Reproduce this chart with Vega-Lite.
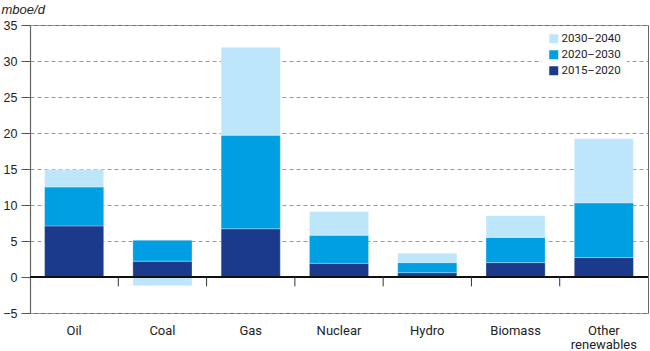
{
  "$schema": "https://vega.github.io/schema/vega-lite/v6.json",
  "width": 618,
  "height": 288,
  "autosize": {"type": "none"},
  "padding": {"left": 30, "top": 25, "right": 2, "bottom": 38},
  "config": {
    "font": "Roboto",
    "view": {"stroke": "#666", "strokeWidth": 1},
    "axis": {"labelFont": "Roboto", "labelFontSize": 13, "labelColor": "#222", "titleFont": "Liberation Sans"},
    "axisY": {
      "labelFont": "Liberation Sans", "labelFontSize": 12.5,
      "labelOverlap": false, "labelFlush": false, "labelBound": false,
      "titleAngle": 0, "titleAlign": "left", "titleBaseline": "alphabetic",
      "titleX": -29, "titleY": -12, "titleFontStyle": "italic", "titleFontWeight": "normal",
      "titleFontSize": 13, "titleColor": "#222",
      "tickSize": 9, "tickColor": "#555", "labelPadding": 4,
      "domainColor": "#666", "domainWidth": 1.2,
      "grid": true, "gridDash": [4, 3], "gridColor": "#999", "gridWidth": 1
    },
    "axisX": {
      "ticks": false, "domain": false, "labelAngle": 0, "grid": false,
      "labelPadding": 11, "labelLineHeight": 14
    },
    "legend": {"labelFont": "Roboto", "labelFontSize": 11.5, "labelColor": "#222"}
  },
  "data": {
    "values": [
      {"cat": "Oil", "series": "2015–2020", "v": 7.1},
      {"cat": "Oil", "series": "2020–2030", "v": 5.4},
      {"cat": "Oil", "series": "2030–2040", "v": 2.4},
      {"cat": "Coal", "series": "2015–2020", "v": 2.2},
      {"cat": "Coal", "series": "2020–2030", "v": 2.9},
      {"cat": "Coal", "series": "2030–2040", "v": -1.2},
      {"cat": "Gas", "series": "2015–2020", "v": 6.7},
      {"cat": "Gas", "series": "2020–2030", "v": 13.0},
      {"cat": "Gas", "series": "2030–2040", "v": 12.2},
      {"cat": "Nuclear", "series": "2015–2020", "v": 1.9},
      {"cat": "Nuclear", "series": "2020–2030", "v": 3.9},
      {"cat": "Nuclear", "series": "2030–2040", "v": 3.3},
      {"cat": "Hydro", "series": "2015–2020", "v": 0.6},
      {"cat": "Hydro", "series": "2020–2030", "v": 1.4},
      {"cat": "Hydro", "series": "2030–2040", "v": 1.3},
      {"cat": "Biomass", "series": "2015–2020", "v": 2.0},
      {"cat": "Biomass", "series": "2020–2030", "v": 3.5},
      {"cat": "Biomass", "series": "2030–2040", "v": 3.0},
      {"cat": "Other renewables", "series": "2015–2020", "v": 2.7},
      {"cat": "Other renewables", "series": "2020–2030", "v": 7.6},
      {"cat": "Other renewables", "series": "2030–2040", "v": 8.9}
    ]
  },
  "layer": [
    {
      "mark": {"type": "bar", "stroke": "#ffffff", "strokeWidth": 0.5, "strokeOpacity": 0.6},
      "encoding": {
        "x": {
          "field": "cat", "type": "nominal", "sort": null,
          "scale": {"paddingInner": 0.33},
          "axis": {
            "title": null,
            "labelExpr": "datum.label == 'Other renewables' ? ['Other', 'renewables'] : datum.label"
          }
        },
        "y": {
          "field": "v", "type": "quantitative", "stack": "zero",
          "scale": {"domain": [-5, 35], "nice": false, "zero": false},
          "axis": {"values": [-5, 0, 5, 10, 15, 20, 25, 30, 35], "title": "mboe/d"}
        },
        "color": {
          "field": "series", "type": "nominal",
          "scale": {
            "domain": ["2030–2040", "2020–2030", "2015–2020"],
            "range": ["#bee6fb", "#009fe3", "#1b3a8c"]
          },
          "legend": {
            "title": null, "orient": "none", "legendX": 512, "legendY": 2,
            "fillColor": "#ffffff", "padding": 6, "symbolType": "square", "symbolSize": 81,
            "symbolStrokeWidth": 0, "labelOffset": 2, "rowPadding": 3
          }
        },
        "order": {"field": "series", "sort": "ascending"}
      }
    },
    {
      "mark": {"type": "rule", "color": "#111", "strokeWidth": 1.3},
      "encoding": {"y": {"datum": 0, "axis": {"values": [-5, 0, 5, 10, 15, 20, 25, 30, 35], "title": "mboe/d"}}}
    },
    {
      "transform": [{"filter": "datum.series == '2015–2020' && datum.cat != 'Oil'"}],
      "mark": {"type": "rule", "color": "#333", "strokeWidth": 1},
      "encoding": {
        "x": {
          "field": "cat", "type": "nominal", "sort": null, "bandPosition": -0.246,
          "axis": {
            "title": null,
            "labelExpr": "datum.label == 'Other renewables' ? ['Other', 'renewables'] : datum.label"
          }
        },
        "y": {"datum": 0, "axis": {"values": [-5, 0, 5, 10, 15, 20, 25, 30, 35], "title": "mboe/d"}},
        "y2": {"datum": -1.3}
      }
    }
  ]
}
